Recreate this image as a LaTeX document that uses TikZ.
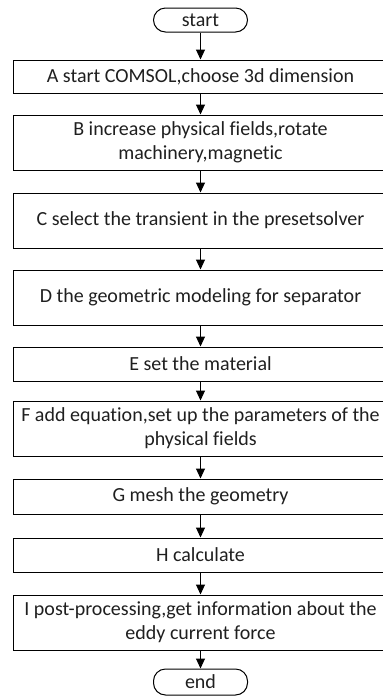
\documentclass[tikz,border=0pt]{standalone}
\usepackage{fontspec}
\setmainfont{Carlito}[Ligatures=CommonOff]
\usetikzlibrary{arrows.meta}
\begin{document}
\begin{tikzpicture}[x=1pt,y=-1pt,
  every node/.style={font=\fontsize{20}{24}\selectfont, text=black!88},
  procbox/.style={draw, line width=1pt, rectangle, minimum width=375pt, inner xsep=0pt, inner ysep=0pt, align=center},
  termbox/.style={draw, line width=1pt, rectangle, rounded corners=12pt, minimum width=94pt, inner sep=0pt},
  flow/.style={line width=1pt, -{Triangle[width=9pt,length=10pt]}}
]
\useasboundingbox (0,0) rectangle (383,697);
\node[termbox, minimum height=24pt] (start) at (200.5,20) {start};
\node[procbox, minimum height=33pt] (A) at (200.5,76.5) {A start COMSOL,choose 3d dimension};
\node[procbox, minimum height=55pt] (B) at (200.5,142.5) {B increase physical fields,rotate\\machinery,magnetic};
\node[procbox, minimum height=55pt] (C) at (200.5,220.5) {C select the transient in the presetsolver};
\node[procbox, minimum height=55pt] (D) at (200.5,297.5) {D the geometric modeling for separator};
\node[procbox, minimum height=34pt] (E) at (200.5,364) {E set the material};
\node[procbox, minimum height=55pt] (F) at (200.5,428.5) {F add equation,set up the parameters of the\\physical fields};
\node[procbox, minimum height=35pt] (G) at (200.5,496.5) {G mesh the geometry};
\node[procbox, minimum height=34pt] (H) at (200.5,555) {H calculate};
\node[procbox, minimum height=55pt] (I) at (200.5,622.5) {I post-processing,get information about the\\eddy current force};
\node[termbox, minimum height=26pt] (end) at (200.5,682) {end};
\draw[flow] (start) -- (A);
\draw[flow] (A) -- (B);
\draw[flow] (B) -- (C);
\draw[flow] (C) -- (D);
\draw[flow] (D) -- (E);
\draw[flow] (E) -- (F);
\draw[flow] (F) -- (G);
\draw[flow] (G) -- (H);
\draw[flow] (H) -- (I);
\draw[flow] (I) -- (end);
\end{tikzpicture}
\end{document}
